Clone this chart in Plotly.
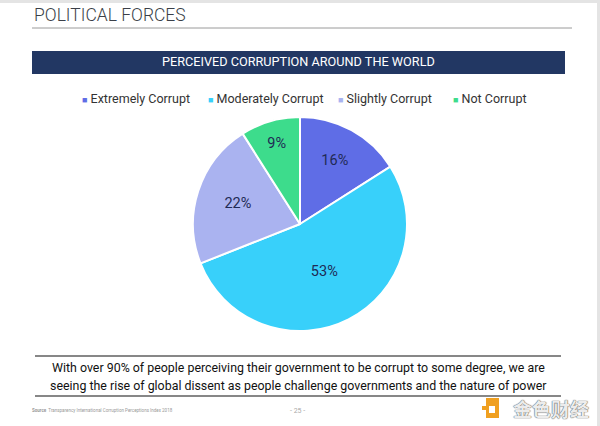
import plotly.graph_objects as go

categories = ["Extremely Corrupt", "Moderately Corrupt", "Slightly Corrupt", "Not Corrupt"]
shares = [16, 53, 22, 9]
colors = ["#5f6de6", "#38d0fa", "#aab3f0", "#3ddc8c"]

W, H = 600, 426
FONT = "Roboto"

def px(x):
    return x / W

def py(y):
    return 1 - y / H

fig = go.Figure(go.Pie(
    labels=categories,
    values=shares,
    sort=False,
    direction="clockwise",
    rotation=0,
    marker=dict(colors=colors, line=dict(color="white", width=2)),
    texttemplate="%{value}%",
    textposition="inside",
    insidetextorientation="horizontal",
    textfont=dict(family=FONT, size=14.5, color="#1f2a55"),
    hoverinfo="label+percent",
    domain=dict(x=[px(192), px(408)], y=[py(331), py(117)]),
    showlegend=False,
))

shapes = [
    dict(type="line", xref="paper", yref="paper", x0=px(32), x1=px(572), y0=py(28), y1=py(28),
         line=dict(color="#9a9a9a", width=1)),
    dict(type="rect", xref="paper", yref="paper", x0=px(32), x1=px(565), y0=py(51), y1=py(74),
         fillcolor="#223763", line=dict(width=0)),
    dict(type="line", xref="paper", yref="paper", x0=px(35), x1=px(561), y0=py(356), y1=py(356),
         line=dict(color="#111111", width=1.2)),
    dict(type="line", xref="paper", yref="paper", x0=px(35), x1=px(561), y0=py(396), y1=py(396),
         line=dict(color="#111111", width=1.2)),
    dict(type="rect", xref="paper", yref="paper", x0=px(597), x1=px(600), y0=py(0), y1=py(426),
         fillcolor="#e4e4e4", line=dict(width=0)),
    dict(type="rect", xref="paper", yref="paper", x0=px(0), x1=px(600), y0=py(0), y1=py(3),
         fillcolor="#e4e4e4", line=dict(width=0)),
    dict(type="rect", xref="paper", yref="paper", x0=px(486), x1=px(499), y0=py(398), y1=py(418),
         fillcolor="#f0a020", line=dict(width=0)),
    dict(type="rect", xref="paper", yref="paper", x0=px(489), x1=px(495), y0=py(406), y1=py(413),
         fillcolor="white", line=dict(width=0)),
    dict(type="rect", xref="paper", yref="paper", x0=px(482), x1=px(486), y0=py(406), y1=py(410),
         fillcolor="#f0a020", line=dict(width=0)),
]

annotations = [
    dict(text="POLITICAL FORCES", x=px(32), y=py(15), xanchor="left", yanchor="middle",
         font=dict(family=FONT, size=17.5, color="#3a3f48", weight=300)),
    dict(text="PERCEIVED CORRUPTION AROUND THE WORLD", x=px(298), y=py(62), xanchor="center", yanchor="middle",
         font=dict(family=FONT, size=12.7, color="white")),
    dict(text="With over 90% of people perceiving their government to be corrupt to some degree, we are",
         x=px(298), y=py(367), xanchor="center", yanchor="middle",
         font=dict(family=FONT, size=12.4, color="#111111")),
    dict(text="seeing the rise of global dissent as people challenge governments and the nature of power",
         x=px(298), y=py(385), xanchor="center", yanchor="middle",
         font=dict(family=FONT, size=12.4, color="#111111")),
    dict(text="<b>Source</b>  Transparency International Corruption Perceptions Index 2018",
         x=px(30), y=py(410), xanchor="left", yanchor="middle",
         font=dict(family=FONT, size=4.5, color="#999999")),
    dict(text="- 25 -", x=px(297), y=py(411), xanchor="center", yanchor="middle",
         font=dict(family=FONT, size=7, color="#aaaaaa")),
    dict(text="金色财经", x=px(551), y=py(408), xanchor="center", yanchor="middle",
         font=dict(family="Noto Sans CJK SC", size=19, color="#ececec", weight=700,
                   shadow="0px 0px 1px #555, 0px 0px 1px #555")),
]

# custom compact legend built from the category / colour arrays
legend_x = [80, 206, 336, 451]
for name, col, lx in zip(categories, colors, legend_x):
    annotations.append(dict(
        text=f"<span style='color:{col};font-size:9px'>■</span> {name}",
        x=px(lx), y=py(98), xanchor="left", yanchor="middle",
        font=dict(family=FONT, size=12.5, color="#333333")))

for a in annotations:
    a.update(xref="paper", yref="paper", showarrow=False)

fig.update_layout(
    width=W, height=H,
    margin=dict(l=0, r=0, t=0, b=0),
    paper_bgcolor="white", plot_bgcolor="white",
    shapes=shapes, annotations=annotations,
    showlegend=False,
)

fig.write_html("out.html", config={"displayModeBar": False},
               post_script="document.body.style.margin='0';document.body.style.overflow='hidden';")
